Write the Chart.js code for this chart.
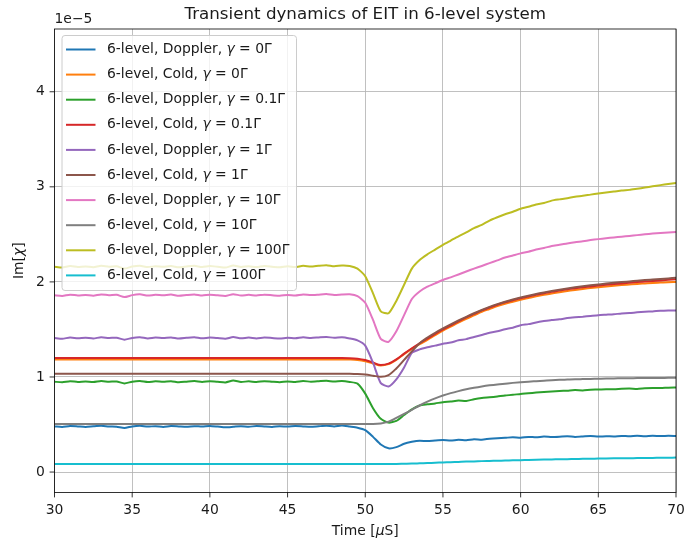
<!DOCTYPE html>
<html>
<head>
<meta charset="utf-8">
<script src="https://cdn.jsdelivr.net/npm/chart.js@4.4.1/dist/chart.umd.min.js"></script>
<style>
  html, body { margin: 0; padding: 0; background: #ffffff; }
  #wrap { width: 686px; height: 542px; }
</style>
</head>
<body>
<div id="wrap"><canvas id="c" width="686" height="542"></canvas></div>
<script>
// Time axis in microseconds (0.5 µs sampling)
const timeUs = [
  30,30.5,31,31.5,32,32.5,33,33.5,34,34.5,
  35,35.5,36,36.5,37,37.5,38,38.5,39,39.5,
  40,40.5,41,41.5,42,42.5,43,43.5,44,44.5,
  45,45.5,46,46.5,47,47.5,48,48.5,49,49.5,
  50,50.5,51,51.5,52,52.5,53,53.5,54,54.5,
  55,55.5,56,56.5,57,57.5,58,58.5,59,59.5,
  60,60.5,61,61.5,62,62.5,63,63.5,64,64.5,
  65,65.5,66,66.5,67,67.5,68,68.5,69,69.5,
  70
];

// Im[chi] in units of 1e-5
const dopp0 = [
  .480,.475,.485,.480,.474,.481,.486,.479,.477,.464,
  .480,.486,.478,.483,.475,.484,.480,.476,.483,.479,
  .485,.478,.470,.476,.483,.477,.484,.479,.475,.483,
  .478,.484,.480,.476,.482,.487,.480,.489,.478,.466,
  .440,.370,.290,.250,.262,.298,.318,.330,.326,.332,
  .336,.331,.339,.335,.345,.341,.350,.356,.360,.366,
  .361,.370,.365,.373,.368,.371,.376,.370,.374,.379,
  .373,.377,.374,.380,.376,.381,.377,.383,.378,.381,
  .380
];
const cold0 = [
  1.185,1.185,1.185,1.185,1.185,1.185,1.185,1.185,1.185,1.185,
  1.185,1.185,1.185,1.185,1.185,1.185,1.185,1.185,1.185,1.185,
  1.185,1.185,1.185,1.185,1.185,1.185,1.185,1.185,1.185,1.185,
  1.185,1.185,1.185,1.185,1.185,1.185,1.185,1.185,1.183,1.178,
  1.165,1.142,1.120,1.135,1.180,1.240,1.295,1.345,1.390,1.440,
  1.488,1.530,1.572,1.612,1.648,1.685,1.715,1.745,1.770,1.792,
  1.812,1.830,1.848,1.864,1.878,1.892,1.905,1.916,1.926,1.935,
  1.944,1.952,1.960,1.967,1.973,1.979,1.984,1.989,1.993,1.997,
  2.000
];
const dopp01 = [
  .950,.945,.955,.948,.952,.946,.957,.950,.953,.932,
  .951,.958,.947,.954,.949,.956,.944,.951,.957,.948,
  .955,.950,.943,.962,.948,.954,.947,.956,.950,.945,
  .953,.948,.957,.951,.955,.960,.952,.958,.948,.930,
  .825,.672,.560,.520,.538,.600,.660,.700,.712,.722,
  .735,.742,.752,.748,.765,.778,.786,.795,.806,.812,
  .822,.828,.836,.842,.848,.852,.856,.862,.859,.866,
  .868,.872,.870,.876,.879,.874,.881,.885,.883,.888,
  .890
];
const cold01 = [
  1.200,1.200,1.200,1.200,1.200,1.200,1.200,1.200,1.200,1.200,
  1.200,1.200,1.200,1.200,1.200,1.200,1.200,1.200,1.200,1.200,
  1.200,1.200,1.200,1.200,1.200,1.200,1.200,1.200,1.200,1.200,
  1.200,1.200,1.200,1.200,1.200,1.200,1.200,1.200,1.198,1.192,
  1.178,1.152,1.125,1.140,1.185,1.245,1.302,1.355,1.402,1.452,
  1.500,1.544,1.586,1.626,1.663,1.700,1.731,1.760,1.786,1.808,
  1.828,1.847,1.865,1.881,1.895,1.909,1.922,1.933,1.943,1.952,
  1.961,1.969,1.977,1.984,1.991,1.998,2.004,2.010,2.016,2.022,
  2.028
];
const dopp1 = [
  1.410,1.402,1.415,1.408,1.412,1.405,1.418,1.410,1.413,1.392,
  1.411,1.418,1.406,1.414,1.409,1.416,1.404,1.412,1.418,1.407,
  1.415,1.409,1.402,1.420,1.407,1.414,1.406,1.416,1.410,1.404,
  1.413,1.407,1.418,1.410,1.416,1.421,1.412,1.418,1.405,1.385,
  1.330,1.150,0.935,0.900,0.975,1.100,1.255,1.290,1.312,1.330,
  1.350,1.362,1.386,1.398,1.420,1.442,1.465,1.480,1.502,1.518,
  1.545,1.556,1.574,1.588,1.600,1.606,1.620,1.628,1.634,1.642,
  1.650,1.655,1.660,1.668,1.672,1.680,1.686,1.690,1.696,1.699,
  1.700
];
const cold1 = [
  1.035,1.035,1.035,1.035,1.035,1.035,1.035,1.035,1.035,1.035,
  1.035,1.035,1.035,1.035,1.035,1.035,1.035,1.035,1.035,1.035,
  1.035,1.035,1.035,1.035,1.035,1.035,1.035,1.035,1.035,1.035,
  1.035,1.035,1.035,1.035,1.035,1.035,1.035,1.035,1.034,1.031,
  1.025,1.014,1.002,1.020,1.090,1.180,1.270,1.355,1.415,1.465,
  1.510,1.553,1.594,1.633,1.670,1.705,1.737,1.766,1.792,1.815,
  1.836,1.855,1.873,1.889,1.904,1.918,1.931,1.943,1.954,1.964,
  1.973,1.982,1.990,1.998,2.005,2.012,2.019,2.025,2.031,2.037,
  2.043
];
const dopp10 = [
  1.860,1.853,1.866,1.858,1.862,1.855,1.868,1.860,1.864,1.840,
  1.861,1.869,1.856,1.864,1.859,1.867,1.854,1.862,1.868,1.857,
  1.865,1.859,1.852,1.871,1.857,1.864,1.856,1.866,1.860,1.854,
  1.863,1.857,1.868,1.861,1.866,1.872,1.862,1.868,1.870,1.850,
  1.780,1.600,1.400,1.370,1.480,1.650,1.820,1.900,1.950,1.985,
  2.020,2.048,2.078,2.110,2.140,2.168,2.198,2.226,2.256,2.278,
  2.300,2.318,2.340,2.356,2.378,2.390,2.405,2.418,2.428,2.440,
  2.450,2.460,2.468,2.476,2.484,2.492,2.500,2.508,2.514,2.520,
  2.526
];
const cold10 = [
  .505,.505,.505,.505,.505,.505,.505,.505,.505,.505,
  .505,.505,.505,.505,.505,.505,.505,.505,.505,.505,
  .505,.505,.505,.505,.505,.505,.505,.505,.505,.505,
  .505,.505,.505,.505,.505,.505,.505,.505,.505,.505,
  .505,.505,.510,.530,.570,.612,.655,.700,.740,.775,
  .805,.830,.851,.870,.886,.900,.912,.922,.930,.938,
  .945,.951,.956,.961,.966,.970,.973,.976,.978,.980,
  .982,.984,.985,.986,.987,.988,.989,.990,.990,.991,
  .991
];
const dopp100 = [
  2.160,2.152,2.166,2.158,2.163,2.155,2.169,2.160,2.164,2.140,
  2.161,2.170,2.156,2.165,2.159,2.167,2.153,2.162,2.169,2.157,
  2.166,2.159,2.151,2.172,2.157,2.165,2.156,2.167,2.160,2.153,
  2.164,2.157,2.169,2.161,2.170,2.176,2.165,2.172,2.168,2.140,
  2.060,1.880,1.690,1.670,1.800,1.970,2.140,2.230,2.290,2.340,
  2.390,2.435,2.480,2.520,2.565,2.600,2.645,2.680,2.712,2.738,
  2.770,2.790,2.815,2.830,2.855,2.868,2.880,2.895,2.905,2.918,
  2.930,2.940,2.950,2.962,2.968,2.980,2.992,3.005,3.018,3.030,
  3.040
];
const cold100 = [
  .085,.085,.085,.085,.085,.085,.085,.085,.085,.085,
  .085,.085,.085,.085,.085,.085,.085,.085,.085,.085,
  .085,.085,.085,.085,.085,.085,.085,.085,.085,.085,
  .085,.085,.085,.085,.085,.085,.085,.085,.085,.085,
  .085,.085,.085,.085,.085,.087,.089,.092,.095,.098,
  .101,.104,.107,.110,.112,.115,.117,.119,.121,.123,
  .125,.127,.129,.131,.133,.134,.136,.137,.139,.140,
  .142,.143,.144,.145,.146,.147,.148,.149,.150,.151,
  .152
];

const seriesLabels = [
  '6-level, Doppler, γ = 0Γ',
  '6-level, Cold, γ = 0Γ',
  '6-level, Doppler, γ = 0.1Γ',
  '6-level, Cold, γ = 0.1Γ',
  '6-level, Doppler, γ = 1Γ',
  '6-level, Cold, γ = 1Γ',
  '6-level, Doppler, γ = 10Γ',
  '6-level, Cold, γ = 10Γ',
  '6-level, Doppler, γ = 100Γ',
  '6-level, Cold, γ = 100Γ'
];
const seriesValues = [dopp0, cold0, dopp01, cold01, dopp1, cold1, dopp10, cold10, dopp100, cold100];
const seriesSmooth = [false, true, false, true, false, true, false, true, false, true];
const palette = ['#1f77b4','#ff7f0e','#2ca02c','#d62728','#9467bd','#8c564b','#e377c2','#7f7f7f','#bcbd22','#17becf'];

const xTicks = [30, 35, 40, 45, 50, 55, 60, 65, 70];
const yTicks = [0, 1, 2, 3, 4];
const xRange = [30, 70];
const yRange = [-0.215, 4.66];

const titleText = 'Transient dynamics of EIT in 6-level system';
const xLabel = 'Time [μS]';
const yLabel = 'Im[χ]';
const offsetText = '1e−5';

const FONT = "'DejaVu Sans', sans-serif";
const TXT = '#1a1a1a';
const TICK_LEN = 4.9;

// Split a string into upright / italic runs (Greek math symbols are italic)
function richParts(s) {
  const parts = [];
  for (const ch of s) {
    const it = /[γχμ]/.test(ch);
    const last = parts[parts.length - 1];
    if (last && last.it === it) last.t += ch; else parts.push({ t: ch, it });
  }
  return parts;
}
function fontFor(it, size) { return (it ? 'italic ' : '') + size + 'px ' + FONT; }
function richWidth(ctx, s, size) {
  let w = 0;
  for (const p of richParts(s)) { ctx.font = fontFor(p.it, size); w += ctx.measureText(p.t).width; }
  return w;
}
function drawRich(ctx, s, x, y, size, align) {
  const w = richWidth(ctx, s, size);
  let cx = align === 'center' ? x - w / 2 : x;
  ctx.textAlign = 'left';
  for (const p of richParts(s)) {
    ctx.font = fontFor(p.it, size);
    ctx.fillText(p.t, cx, y);
    cx += ctx.measureText(p.t).width;
  }
}

const decorations = {
  id: 'decorations',
  afterDatasetsDraw(chart) {
    const ctx = chart.ctx, a = chart.chartArea;
    const xs = chart.scales.x, ys = chart.scales.y;
    ctx.save();
    ctx.strokeStyle = '#000';
    ctx.lineWidth = 0.8;
    ctx.strokeRect(a.left, a.top, a.right - a.left, a.bottom - a.top);
    ctx.beginPath();
    for (const v of xTicks) {
      const px = xs.getPixelForValue(v);
      ctx.moveTo(px, a.bottom); ctx.lineTo(px, a.bottom + TICK_LEN);
    }
    for (const v of yTicks) {
      const py = ys.getPixelForValue(v);
      ctx.moveTo(a.left, py); ctx.lineTo(a.left - TICK_LEN, py);
    }
    ctx.stroke();
    ctx.restore();
  },
  afterDraw(chart) {
    const ctx = chart.ctx, a = chart.chartArea;
    const cx = (a.left + a.right) / 2;
    ctx.save();
    ctx.fillStyle = TXT;
    ctx.textBaseline = 'middle';
    // title
    drawRich(ctx, titleText, cx, 14.5, 16.7, 'center');
    // axis offset
    ctx.font = fontFor(false, 13.9);
    ctx.textAlign = 'left';
    ctx.fillText(offsetText, a.left, 19.5);
    // x label
    drawRich(ctx, xLabel, cx, 531, 13.9, 'center');
    // y label
    ctx.save();
    ctx.translate(19, (a.top + a.bottom) / 2);
    ctx.rotate(-Math.PI / 2);
    drawRich(ctx, yLabel, 0, 0, 13.9, 'center');
    ctx.restore();

    // legend box
    const lx = 62, ly = 35.5, lw = 234.5, lh = 255, r = 3;
    ctx.beginPath();
    ctx.moveTo(lx + r, ly);
    ctx.lineTo(lx + lw - r, ly); ctx.quadraticCurveTo(lx + lw, ly, lx + lw, ly + r);
    ctx.lineTo(lx + lw, ly + lh - r); ctx.quadraticCurveTo(lx + lw, ly + lh, lx + lw - r, ly + lh);
    ctx.lineTo(lx + r, ly + lh); ctx.quadraticCurveTo(lx, ly + lh, lx, ly + lh - r);
    ctx.lineTo(lx, ly + r); ctx.quadraticCurveTo(lx, ly, lx + r, ly);
    ctx.closePath();
    ctx.fillStyle = 'rgba(255,255,255,0.8)';
    ctx.fill();
    ctx.strokeStyle = '#cccccc';
    ctx.lineWidth = 1;
    ctx.stroke();

    chart.data.datasets.forEach((ds, i) => {
      const yy = 49.5 + 25.1 * i;
      ctx.strokeStyle = ds.borderColor;
      ctx.lineWidth = 2;
      ctx.beginPath();
      ctx.moveTo(66, yy); ctx.lineTo(95.5, yy);
      ctx.stroke();
      ctx.fillStyle = TXT;
      ctx.textBaseline = 'middle';
      drawRich(ctx, ds.label, 107, yy, 13.9, 'left');
    });
    ctx.restore();
  }
};

const datasets = seriesValues.map((vals, i) => ({
  label: seriesLabels[i],
  data: vals.map((v, k) => ({ x: timeUs[k], y: v })),
  borderColor: palette[i],
  backgroundColor: palette[i],
  borderWidth: 2,
  pointRadius: 0,
  fill: false,
  tension: seriesSmooth[i] ? 0 : 0.2,
  cubicInterpolationMode: seriesSmooth[i] ? 'monotone' : 'default',
  order: seriesValues.length - i
}));

new Chart(document.getElementById('c'), {
  type: 'line',
  data: { datasets },
  options: {
    responsive: false,
    animation: false,
    devicePixelRatio: 1,
    layout: { padding: { left: 0, right: 10, top: 29, bottom: 0 } },
    plugins: { legend: { display: false }, title: { display: false }, tooltip: { enabled: false } },
    scales: {
      x: {
        type: 'linear',
        min: xRange[0], max: xRange[1],
        afterFit(s) { s.height = 49.5; s.paddingLeft = 0; s.paddingRight = 0; },
        afterBuildTicks(s) { s.ticks = xTicks.map(v => ({ value: v })); },
        grid: { color: '#b0b0b0', lineWidth: 0.8, drawTicks: false },
        border: { display: false },
        ticks: { color: TXT, font: { family: FONT, size: 13.9 }, padding: 9.7, maxRotation: 0, autoSkip: false }
      },
      y: {
        type: 'linear',
        min: yRange[0], max: yRange[1],
        afterFit(s) { s.width = 54.5; s.paddingTop = 0; s.paddingBottom = 0; },
        afterBuildTicks(s) { s.ticks = yTicks.map(v => ({ value: v })); },
        grid: { color: '#b0b0b0', lineWidth: 0.8, drawTicks: false },
        border: { display: false },
        ticks: { color: TXT, font: { family: FONT, size: 13.9 }, padding: 9.7, autoSkip: false }
      }
    }
  },
  plugins: [decorations]
});
</script>
</body>
</html>
